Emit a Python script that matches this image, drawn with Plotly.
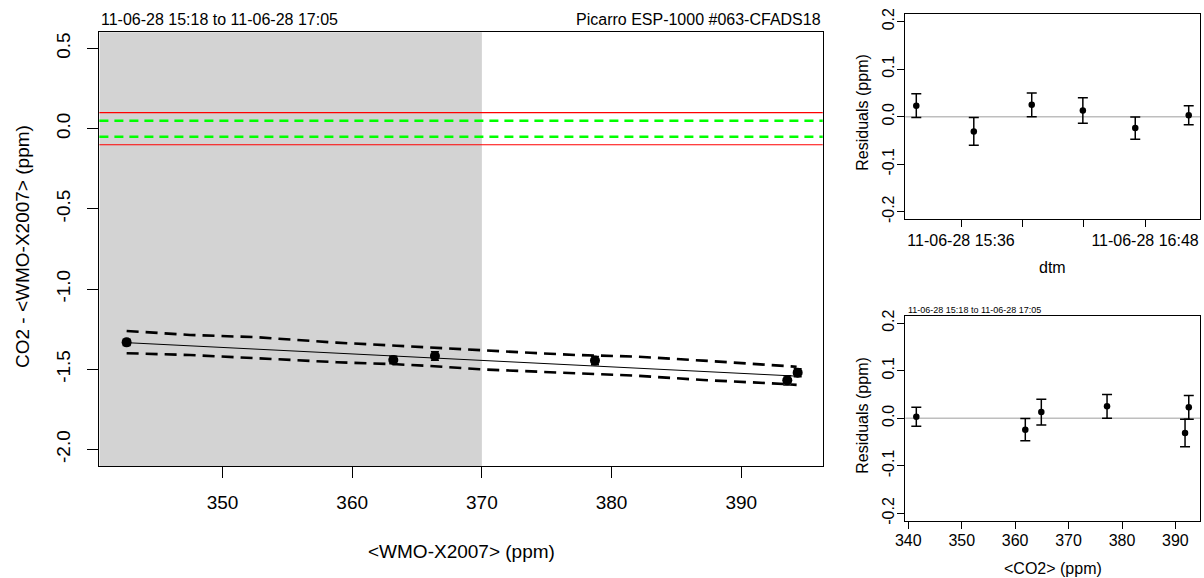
import plotly.graph_objects as go

W, H = 1204, 578

# ---- data ----
times = ["2011-06-28 15:18:30", "2011-06-28 15:41:00", "2011-06-28 16:03:40",
         "2011-06-28 16:23:40", "2011-06-28 16:44:10", "2011-06-28 17:05:05"]
wmo = [394.35, 393.55, 378.72, 366.38, 363.17, 342.61]
diff = [-1.521, -1.569, -1.446, -1.417, -1.442, -1.332]
co2 = [392.5, 391.8, 377.2, 364.9, 361.9, 341.5]
resid = [0.023, -0.031, 0.025, 0.013, -0.024, 0.003]
resid_err = [0.025, 0.029, 0.025, 0.027, 0.0235, 0.020]

fit_x = [342.61, 394.35]
fit_y = [-1.334, -1.543]

band_x = [342.61, 347.49, 352.64, 358.80, 363.43, 366.0, 369.85, 373.71,
          377.31, 381.94, 387.07, 392.21, 394.27]
band_upper = [-1.261, -1.286, -1.300, -1.334, -1.353, -1.365, -1.380, -1.397,
              -1.411, -1.421, -1.446, -1.473, -1.484]
band_lower = [-1.400, -1.411, -1.431, -1.456, -1.469, -1.479, -1.500, -1.515,
              -1.525, -1.540, -1.567, -1.587, -1.597]

tol_red = [-0.1, 0.1]
tol_green = [-0.05, 0.05]
shade_until = 370

main_xticks = [350, 360, 370, 380, 390]
main_yticks = [-2.0, -1.5, -1.0, -0.5, 0.0, 0.5]
main_yticktext = ["-2.0", "-1.5", "-1.0", "-0.5", "0.0", "0.5"]
res_yticks = [-0.2, -0.1, 0.0, 0.1, 0.2]
res_yticktext = ["-0.2", "-0.1", "0.0", "0.1", "0.2"]
dtm_ticks = ["2011-06-28 15:36", "2011-06-28 16:00", "2011-06-28 16:24", "2011-06-28 16:48"]
dtm_ticktext = ["11-06-28 15:36", "", "", "11-06-28 16:48"]
co2_ticks = [340, 350, 360, 370, 380, 390]

title_left = "11-06-28 15:18 to 11-06-28 17:05"
title_right = "Picarro ESP-1000 #063-CFADS18"

FONT = "Liberation Sans, Arial, Helvetica, sans-serif"

main_xr = [340.51, 396.28]
main_yr = [-2.103, 0.601]

fig = go.Figure()

# confidence band
fig.add_trace(go.Scatter(x=band_x, y=band_upper, mode="lines",
                         line=dict(color="black", width=2.6, dash="12px,7px"),
                         xaxis="x", yaxis="y", showlegend=False, hoverinfo="skip"))
fig.add_trace(go.Scatter(x=band_x, y=band_lower, mode="lines",
                         line=dict(color="black", width=2.6, dash="12px,7px"),
                         xaxis="x", yaxis="y", showlegend=False, hoverinfo="skip"))
# fit line
fig.add_trace(go.Scatter(x=fit_x, y=fit_y, mode="lines",
                         line=dict(color="black", width=1),
                         xaxis="x", yaxis="y", showlegend=False))
# main points
fig.add_trace(go.Scatter(x=wmo, y=diff, mode="markers",
                         marker=dict(color="black", size=10),
                         error_y=dict(type="data", array=resid_err, color="black",
                                      thickness=1.5, width=4),
                         xaxis="x", yaxis="y", showlegend=False))

# residuals vs time
fig.add_trace(go.Scatter(x=times, y=resid, mode="markers",
                         marker=dict(color="black", size=6.5),
                         error_y=dict(type="data", array=resid_err, color="black",
                                      thickness=1.5, width=5),
                         xaxis="x2", yaxis="y2", showlegend=False))
# residuals vs co2
fig.add_trace(go.Scatter(x=co2, y=resid, mode="markers",
                         marker=dict(color="black", size=6.5),
                         error_y=dict(type="data", array=resid_err, color="black",
                                      thickness=1.5, width=5),
                         xaxis="x3", yaxis="y3", showlegend=False))

shapes = []
# grey shaded region
shapes.append(dict(type="rect", xref="x", yref="y domain", x0=main_xr[0], x1=shade_until,
                   y0=0, y1=1, fillcolor="#D3D3D3", line=dict(width=0), layer="below"))
for v in tol_red:
    shapes.append(dict(type="line", xref="x domain", yref="y", x0=0, x1=1, y0=v, y1=v,
                       line=dict(color="#FF0000", width=1.2), layer="below"))
for v in tol_green:
    shapes.append(dict(type="line", xref="x domain", yref="y", x0=0, x1=1, y0=v, y1=v,
                       line=dict(color="#00FF00", width=2.6, dash="9px,6px"), layer="below"))
for ya in ["y2", "y3"]:
    xa = "x2" if ya == "y2" else "x3"
    shapes.append(dict(type="line", xref=xa + " domain", yref=ya, x0=0, x1=1, y0=0, y1=0,
                       line=dict(color="#BEBEBE", width=1.5), layer="below"))

def ax(**kw):
    base = dict(showgrid=False, zeroline=False, showline=True, mirror=True,
                linecolor="black", linewidth=1, ticks="outside", tickcolor="black",
                tickwidth=1, automargin=False)
    base.update(kw)
    return base

fig.update_layout(
    template="none",
    width=W, height=H, autosize=False,
    margin=dict(l=0, r=0, t=0, b=0, autoexpand=False),
    paper_bgcolor="white", plot_bgcolor="white",
    font=dict(family=FONT, color="black"),
    xaxis=ax(domain=[99.4 / W, 822.7 / W], range=main_xr, anchor="y",
             tickvals=main_xticks, ticklen=11, tickfont=dict(size=19),
             ticklabelstandoff=8),
    yaxis=ax(domain=[1 - 466 / H, 1 - 32.3 / H], range=main_yr, anchor="x",
             tickvals=main_yticks, ticktext=main_yticktext, ticklen=11,
             tickangle=-90, tickfont=dict(size=19), ticklabelstandoff=10),
    xaxis2=ax(domain=[905.3 / W, 1200 / W], type="date", anchor="y2",
              range=["2011-06-28 15:14:12", "2011-06-28 17:09:30"],
              tickvals=dtm_ticks, ticktext=dtm_ticktext, ticklen=7,
              tickfont=dict(size=16), ticklabelstandoff=-1),
    yaxis2=ax(domain=[1 - 219.3 / H, 1 - 14 / H], range=[-0.216, 0.216], anchor="x2",
              tickvals=res_yticks, ticktext=res_yticktext, ticklen=7,
              tickangle=-90, tickfont=dict(size=16), ticklabelstandoff=-3),
    xaxis3=ax(domain=[905.3 / W, 1200 / W], range=[339.44, 394.6], anchor="y3",
              tickvals=co2_ticks, ticklen=7, tickfont=dict(size=16),
              ticklabelstandoff=-2),
    yaxis3=ax(domain=[1 - 521 / H, 1 - 315.5 / H], range=[-0.216, 0.216], anchor="x3",
              tickvals=res_yticks, ticktext=res_yticktext, ticklen=7,
              tickangle=-90, tickfont=dict(size=16), ticklabelstandoff=-3),
    shapes=shapes,
    showlegend=False,
)

def ann(text, x, y, size, xanchor="center", yanchor="middle", angle=0):
    return dict(text=text, x=x / W, y=1 - y / H, xref="paper", yref="paper",
                showarrow=False, xanchor=xanchor, yanchor=yanchor, textangle=angle,
                font=dict(size=size, family=FONT, color="black"))

fig.update_layout(annotations=[
    ann(title_left, 99, 20, 16, xanchor="left"),
    ann(title_right, 822.7, 20, 16, xanchor="right"),
    ann("CO2 - <WMO-X2007> (ppm)", 22, 247, 19, angle=-90),
    ann("<WMO-X2007> (ppm)", 461, 551, 19),
    ann("Residuals (ppm)", 861.7, 113, 16, angle=-90),
    ann("dtm", 1052.6, 267, 16),
    ann("Residuals (ppm)", 861.7, 416, 16, angle=-90),
    ann("<CO2> (ppm)", 1052.6, 568, 16),
    ann(title_left, 905.7, 309.5, 9, xanchor="left"),
])

fig.write_html("out.html", config={"displayModeBar": False},
               post_script="document.body.style.margin='0';")
